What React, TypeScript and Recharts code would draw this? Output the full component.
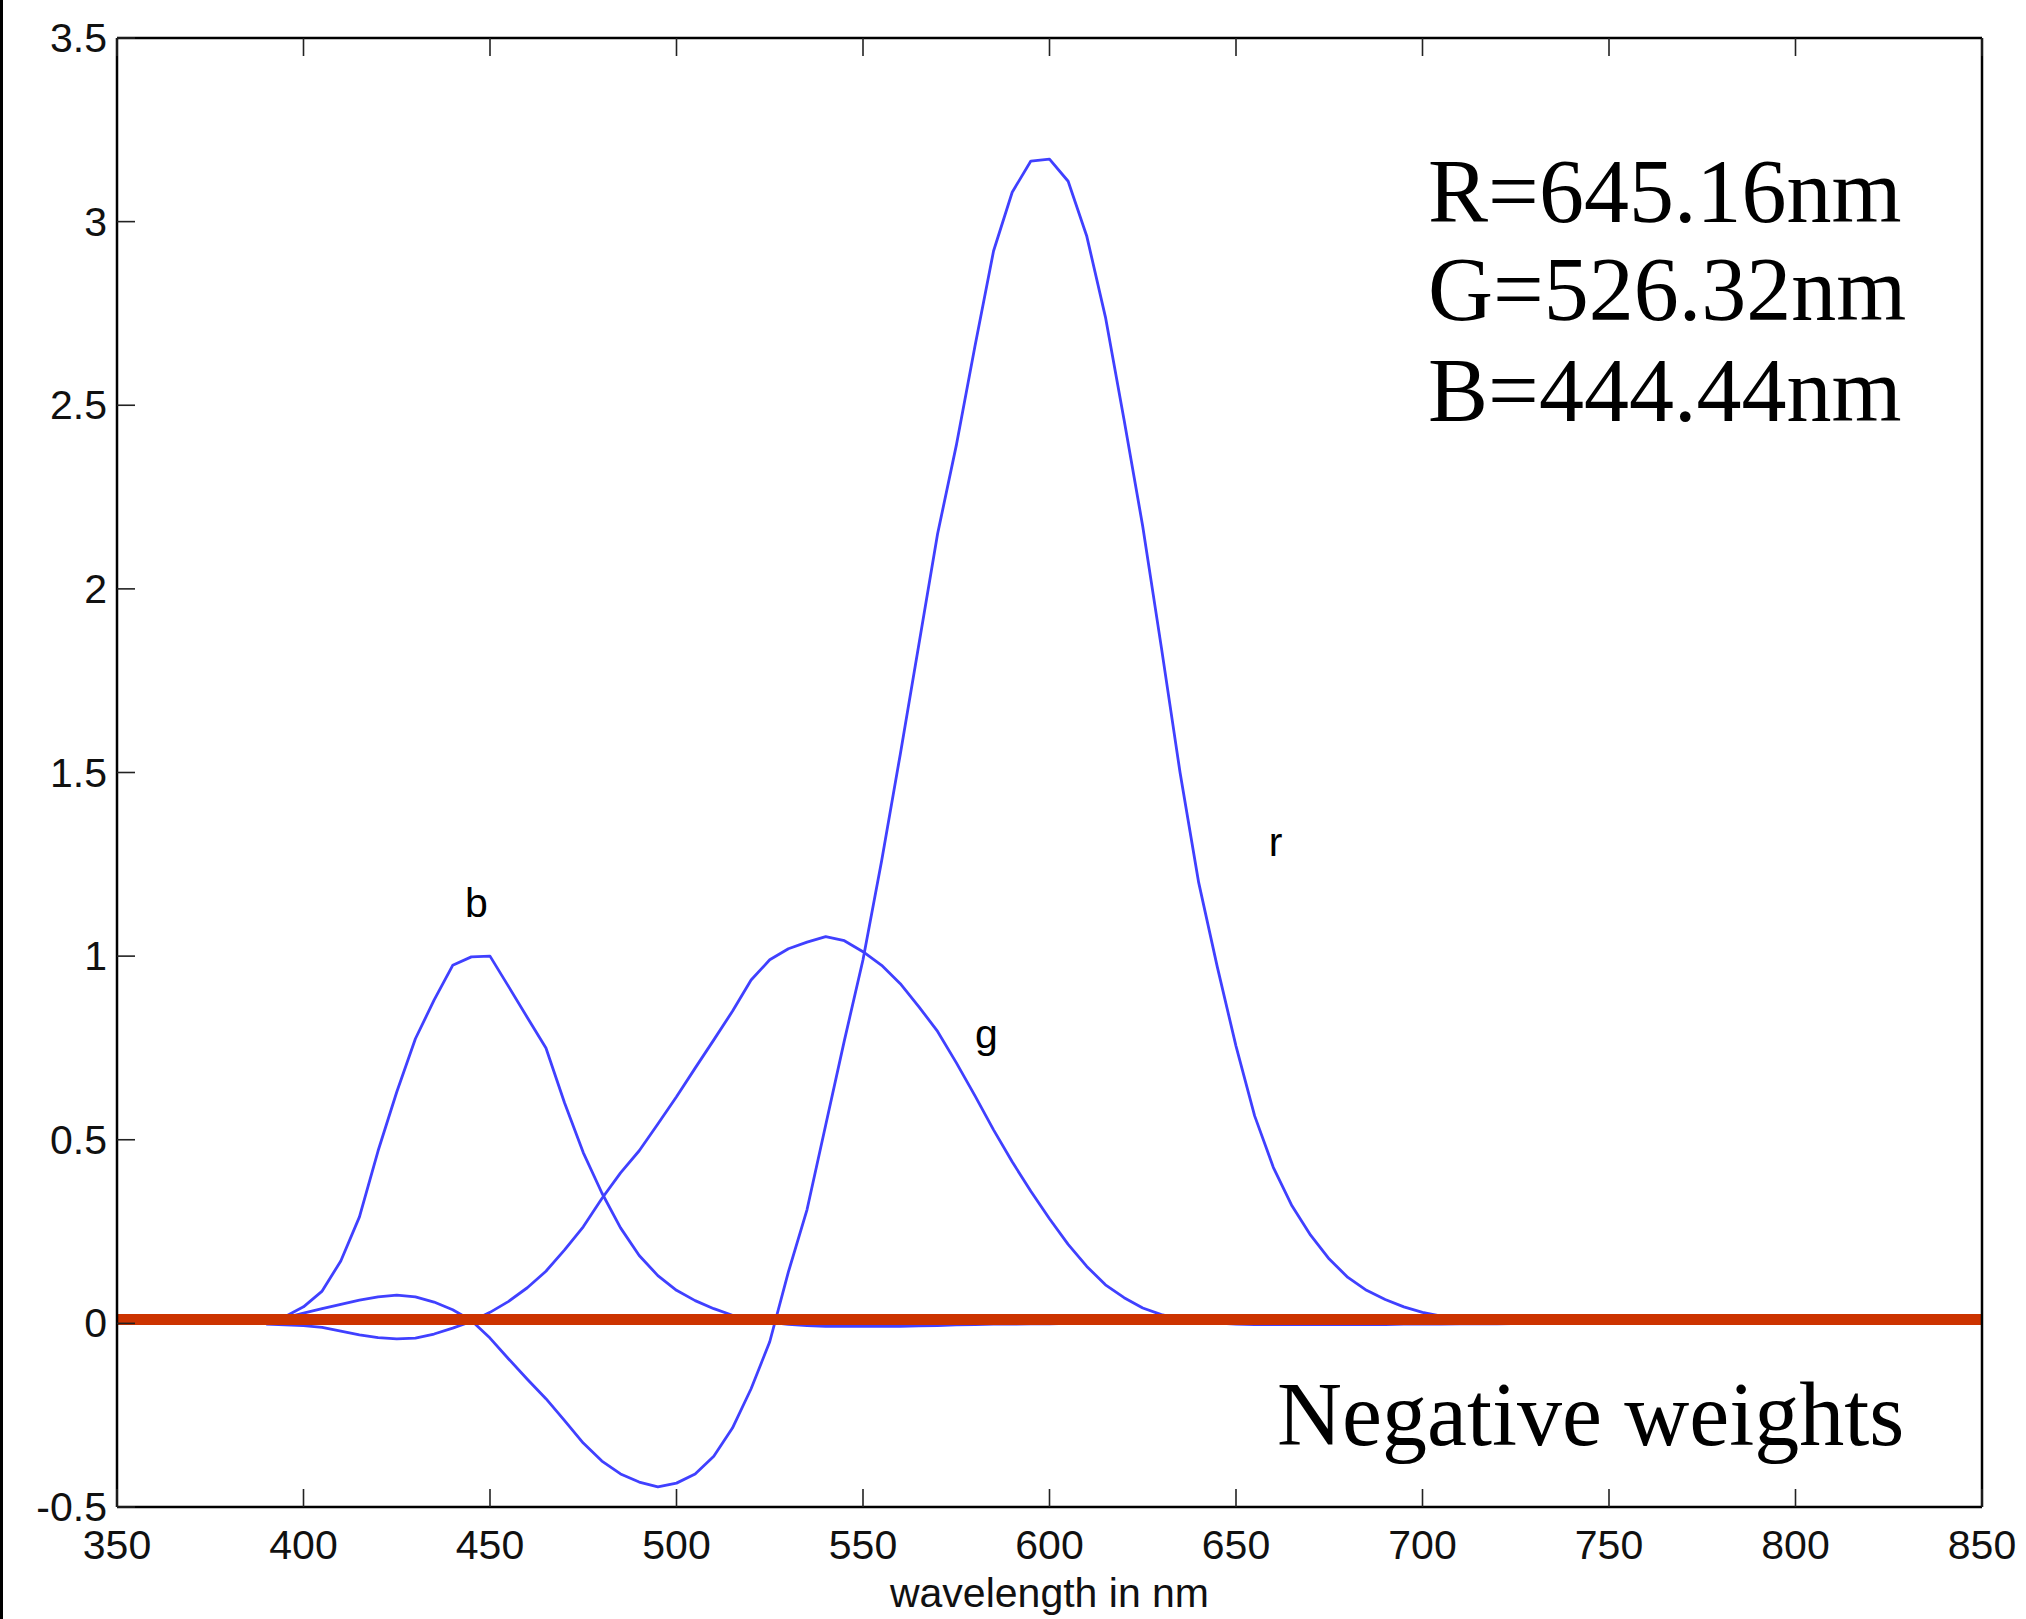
import { LineChart, Line, XAxis, YAxis, ReferenceLine, ReferenceDot } from "recharts";

// wavelengths in nm (5 nm steps up to 720, then 10 nm)
const WAVELENGTHS = [
  390, 395, 400, 405, 410, 415, 420, 425, 430, 435, 440, 445, 450, 455, 460, 465, 470, 475, 480, 485,
  490, 495, 500, 505, 510, 515, 520, 525, 530, 535, 540, 545, 550, 555, 560, 565, 570, 575, 580, 585,
  590, 595, 600, 605, 610, 615, 620, 625, 630, 635, 640, 645, 650, 655, 660, 665, 670, 675, 680, 685,
  690, 695, 700, 705, 710, 715, 720, 730, 740, 750, 760, 770, 780, 790, 800, 810, 820, 830
];

const R_BAR = [
  0.003, 0.015, 0.028, 0.04, 0.052, 0.063, 0.072, 0.077, 0.072, 0.058, 0.037, 0.008, -0.04, -0.097, -0.152, -0.205, -0.265, -0.326, -0.375, -0.41,
  -0.432, -0.445, -0.435, -0.41, -0.362, -0.285, -0.178, -0.05, 0.14, 0.31, 0.54, 0.77, 0.99, 1.26, 1.55, 1.85, 2.15, 2.39, 2.66, 2.92,
  3.08, 3.165, 3.17, 3.11, 2.96, 2.74, 2.46, 2.17, 1.84, 1.5, 1.2, 0.97, 0.755, 0.565, 0.425, 0.32, 0.24, 0.175, 0.125, 0.09,
  0.065, 0.045, 0.03, 0.02, 0.013, 0.008, 0.005, 0.002, 0.001, 0.001, 0, 0, 0, 0, 0, 0, 0, 0
];

const G_BAR = [
  -0.002, -0.004, -0.006, -0.011, -0.021, -0.031, -0.039, -0.042, -0.04, -0.029, -0.013, 0.005, 0.03, 0.06, 0.097, 0.142, 0.2, 0.263, 0.34, 0.41,
  0.47, 0.543, 0.617, 0.695, 0.772, 0.85, 0.935, 0.99, 1.02, 1.038, 1.053, 1.042, 1.012, 0.975, 0.925, 0.862, 0.795, 0.71, 0.62, 0.527,
  0.44, 0.36, 0.285, 0.215, 0.155, 0.105, 0.07, 0.042, 0.024, 0.012, 0.005, 0.001, -0.002, -0.003, -0.003, -0.003, -0.003, -0.003, -0.003, -0.003,
  -0.003, -0.002, -0.002, -0.002, -0.001, -0.001, -0.001, 0, 0, 0, 0, 0, 0, 0, 0, 0, 0, 0
];

const B_BAR = [
  0.005, 0.018, 0.045, 0.088, 0.17, 0.29, 0.47, 0.63, 0.775, 0.88, 0.975, 0.998, 1.0, 0.917, 0.833, 0.75, 0.6, 0.465, 0.355, 0.26,
  0.185, 0.13, 0.09, 0.062, 0.04, 0.022, 0.01, 0.003, -0.003, -0.006, -0.008, -0.008, -0.008, -0.008, -0.008, -0.007, -0.006, -0.004, -0.003, -0.002,
  -0.002, -0.001, -0.001, 0, 0, 0, 0, 0, 0, 0, 0, 0, 0, 0, 0, 0, 0, 0, 0, 0,
  0, 0, 0, 0, 0, 0, 0, 0, 0, 0, 0, 0, 0, 0, 0, 0, 0, 0
];

const X_TICKS = [350, 400, 450, 500, 550, 600, 650, 700, 750, 800, 850];
const Y_TICKS = [-0.5, 0, 0.5, 1, 1.5, 2, 2.5, 3, 3.5];

const CURVE_LABELS = [
  { text: "b", x: 443.3, y: 1.107 },
  { text: "g", x: 580.0, y: 0.749 },
  { text: "r", x: 658.8, y: 1.272 }
];

const NOTES = [
  { text: "R=645.16nm", x: 701.5, y: 2.999 },
  { text: "G=526.32nm", x: 701.5, y: 2.731 },
  { text: "B=444.44nm", x: 701.5, y: 2.457 },
  { text: "Negative weights", x: 661.0, y: -0.332 }
];

const SANS = "'Liberation Sans', Arial, Helvetica, sans-serif";
const SERIF = "'Liberation Serif', 'Times New Roman', serif";
const BLUE = "#4040ff";
const TICK_LEN = 18;
const FONT = 41;

const rows = WAVELENGTHS.map((wl, i) => ({ wl, r: R_BAR[i], g: G_BAR[i], b: B_BAR[i] }));

function BottomTick(props: any) {
  const { x, y, payload } = props;
  return (
    <g>
      <line x1={x} y1={y} x2={x} y2={y - TICK_LEN} stroke="#222" strokeWidth={1.6} />
      <text x={x} y={y + 52} textAnchor="middle" fontSize={FONT} fontFamily={SANS} fill="#111">
        {String(payload.value)}
      </text>
    </g>
  );
}

function TopTick(props: any) {
  const { x, y } = props;
  return <line x1={x} y1={y} x2={x} y2={y + TICK_LEN} stroke="#222" strokeWidth={1.6} />;
}

function LeftTick(props: any) {
  const { x, y, payload } = props;
  return (
    <g>
      <line x1={x} y1={y} x2={x + TICK_LEN} y2={y} stroke="#222" strokeWidth={1.6} />
      <text x={x - 10} y={y + 14} textAnchor="end" fontSize={FONT} fontFamily={SANS} fill="#111">
        {String(payload.value)}
      </text>
    </g>
  );
}

function RightTick(props: any) {
  const { x, y } = props;
  return <line x1={x} y1={y} x2={x - TICK_LEN} y2={y} stroke="#222" strokeWidth={1.6} />;
}

const textAt = (text: string, size: number, family: string) => (props: any) => {
  const vb = props.viewBox ?? {};
  return (
    <text x={vb.x} y={vb.y} fontSize={size} fontFamily={family} fill="#000">
      {text}
    </text>
  );
};

const frame = { stroke: "#000", strokeWidth: 2.5 };

export default function App() {
  return (
    <div style={{ position: "relative", width: 2026, height: 1619, background: "#fff" }}>
      <style>{"body{margin:0;background:#fff}"}</style>
      <LineChart width={2026} height={1619} data={rows} margin={{ top: 37, right: 43, bottom: 0, left: 0 }}>
        <XAxis
          xAxisId="bottom"
          dataKey="wl"
          type="number"
          domain={[350, 850]}
          ticks={X_TICKS}
          interval={0}
          height={112}
          axisLine={frame}
          tickLine={false}
          tickSize={0}
          tickMargin={0}
          tick={<BottomTick />}
          label={{
            value: "wavelength in nm",
            position: "insideBottom",
            offset: 12,
            fontSize: FONT,
            fontFamily: SANS,
            fill: "#111"
          }}
        />
        <XAxis
          xAxisId="top"
          orientation="top"
          dataKey="wl"
          type="number"
          domain={[350, 850]}
          ticks={X_TICKS}
          interval={0}
          height={1}
          axisLine={frame}
          tickLine={false}
          tickSize={0}
          tickMargin={0}
          tick={<TopTick />}
        />
        <YAxis
          yAxisId="left"
          type="number"
          domain={[-0.5, 3.5]}
          ticks={Y_TICKS}
          interval={0}
          width={117}
          axisLine={frame}
          tickLine={false}
          tickSize={0}
          tickMargin={0}
          tick={<LeftTick />}
        />
        <YAxis
          yAxisId="right"
          orientation="right"
          type="number"
          domain={[-0.5, 3.5]}
          ticks={Y_TICKS}
          interval={0}
          width={1}
          axisLine={frame}
          tickLine={false}
          tickSize={0}
          tickMargin={0}
          tick={<RightTick />}
        />
        <Line xAxisId="bottom" yAxisId="left" type="linear" dataKey="r" stroke={BLUE} strokeWidth={2.8} strokeLinejoin="round" dot={false} isAnimationActive={false} />
        <Line xAxisId="bottom" yAxisId="left" type="linear" dataKey="g" stroke={BLUE} strokeWidth={2.8} strokeLinejoin="round" dot={false} isAnimationActive={false} />
        <Line xAxisId="bottom" yAxisId="left" type="linear" dataKey="b" stroke={BLUE} strokeWidth={2.8} strokeLinejoin="round" dot={false} isAnimationActive={false} />
        <ReferenceLine xAxisId="bottom" yAxisId="left" y={0.0106} stroke="#cc3300" strokeWidth={11} />
        {CURVE_LABELS.map((l) => (
          <ReferenceDot key={l.text} xAxisId="bottom" yAxisId="left" x={l.x} y={l.y} r={0} stroke="none" fill="none" label={textAt(l.text, FONT, SANS)} />
        ))}
        {NOTES.map((n) => (
          <ReferenceDot key={n.text} xAxisId="bottom" yAxisId="left" x={n.x} y={n.y} r={0} stroke="none" fill="none" label={textAt(n.text, 90, SERIF)} />
        ))}
      </LineChart>
      <div style={{ position: "absolute", left: 0, top: 0, width: 3, height: 1619, background: "#000" }} />
    </div>
  );
}
